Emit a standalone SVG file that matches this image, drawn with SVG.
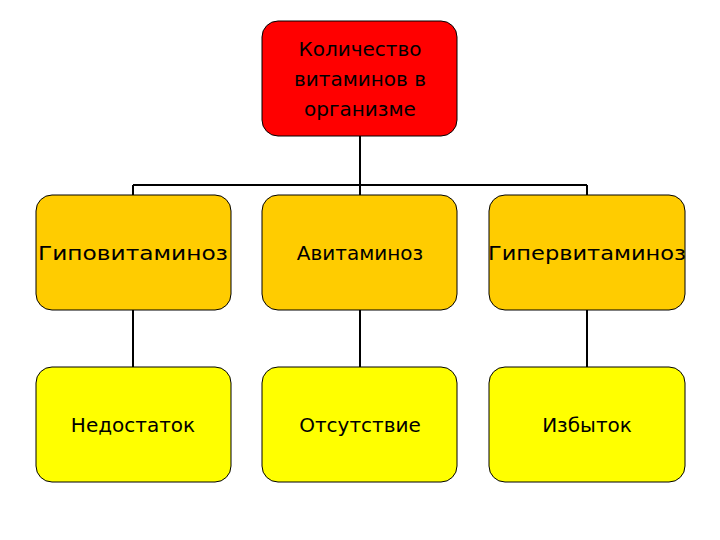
<svg xmlns="http://www.w3.org/2000/svg" width="720" height="540" viewBox="0 0 720 540">
<style>
.b{stroke:#000;stroke-width:1}
.t{font-family:"DejaVu Sans",sans-serif;font-size:20px;fill:#000;text-anchor:middle}
.c{stroke:#000;stroke-width:2;fill:none}
</style>
<rect width="720" height="540" fill="#fff"/>
<g id="connectors">
<path class="c" d="M360,136V185M133,185H587M133,185V195M360,185V195M587,185V195M133,310V367M360,310V367M587,310V367"/>
</g>
<g id="top"><rect class="b" x="262" y="21" width="195" height="115" rx="16" fill="#FF0000"/>
<text class="t" x="360" y="56">Количество</text><text class="t" x="360" y="86">витаминов в</text><text class="t" x="360" y="116">организме</text></g>
<g id="hypo"><rect class="b" x="36" y="195" width="195" height="115" rx="16" fill="#FFCC00"/><text class="t" x="133" y="260" textLength="190" lengthAdjust="spacingAndGlyphs">Гиповитаминоз</text></g>
<g id="avit"><rect class="b" x="262" y="195" width="195" height="115" rx="16" fill="#FFCC00"/><text class="t" x="360" y="260">Авитаминоз</text></g>
<g id="hyper"><rect class="b" x="489" y="195" width="196" height="115" rx="16" fill="#FFCC00"/><text class="t" x="587" y="260" textLength="198" lengthAdjust="spacingAndGlyphs">Гипервитаминоз</text></g>
<g id="ned"><rect class="b" x="36" y="367" width="195" height="115" rx="16" fill="#FFFF00"/><text class="t" x="133" y="432">Недостаток</text></g>
<g id="ots"><rect class="b" x="262" y="367" width="195" height="115" rx="16" fill="#FFFF00"/><text class="t" x="360" y="432">Отсутствие</text></g>
<g id="izb"><rect class="b" x="489" y="367" width="196" height="115" rx="16" fill="#FFFF00"/><text class="t" x="587" y="432">Избыток</text></g>
</svg>
